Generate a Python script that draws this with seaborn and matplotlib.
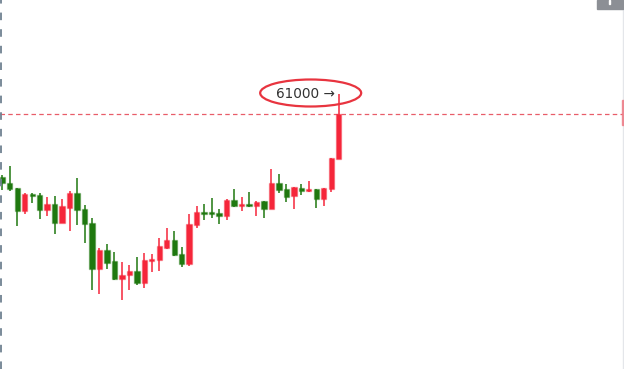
import numpy as np
import pandas as pd
import matplotlib
matplotlib.use("Agg")
import matplotlib.pyplot as plt
from matplotlib.patches import Ellipse, Rectangle
from matplotlib.transforms import IdentityTransform
import seaborn as sns

opens = [59340, 59230, 59130, 58660, 59010, 58980, 58690, 58800, 58430, 58730,
         59020, 58700, 58430, 57500, 57880, 57660, 57300, 57390, 57460, 57230,
         57670, 57680, 57930, 58080, 57800, 57600, 58380, 58650, 58650, 58630,
         58570, 58880, 58770, 58810, 58770, 58860, 58700, 59230, 59100, 58960,
         59130, 59060, 59110, 58910, 59100, 59710]
highs = [59380, 59570, 59130, 59030, 59030, 59030, 58940, 58960, 58910, 59060,
         59330, 58790, 58530, 57930, 58010, 57840, 57650, 57580, 57750, 57830,
         57810, 58130, 58320, 58260, 57940, 58600, 58760, 58810, 58920, 58710,
         58900, 59110, 58950, 59040, 58870, 58860, 59510, 59400, 59210, 59140,
         59210, 59270, 59110, 59130, 59730, 61000]
lows = [59080, 59070, 58370, 58600, 58830, 58510, 58560, 58210, 58430, 58260,
        58380, 58020, 57090, 57010, 57510, 57290, 56890, 57080, 57190, 57130,
        57450, 57460, 57910, 57760, 57550, 57560, 58330, 58480, 58530, 58400,
        58490, 58750, 58670, 58750, 58560, 58530, 58700, 59030, 58850, 58710,
        58980, 59050, 58730, 58760, 59050, 59710]
closes = [59220, 59100, 58660, 59010, 58970, 58690, 58810, 58430, 58760, 59030,
          58680, 58400, 57500, 57890, 57630, 57300, 57390, 57460, 57230, 57680,
          57710, 57960, 58080, 57790, 57610, 58400, 58650, 58610, 58610, 58570,
          58880, 58760, 58810, 58760, 58850, 58700, 59230, 59080, 58950, 59140,
          59060, 59100, 58910, 59130, 59730, 60610]
high_label = "61000 →"

df = pd.DataFrame({"open": opens, "high": highs, "low": lows, "close": closes})
df["idx"] = np.arange(len(df))
UP = "#f5263a"
DOWN = "#1f780f"
df["color"] = np.where(df["close"] >= df["open"], UP, DOWN)

sns.set_theme(style="white")
plt.rcParams["font.family"] = ["DejaVu Sans"]

fig = plt.figure(figsize=(6.24, 3.69), dpi=100)
ax = fig.add_axes([0, 0, 1, 1])
ax.set_xlim(-0.308, 83.17)
ax.set_ylim(55500, 62880)
ax.axis("off")

# wicks
ax.vlines(df["idx"], df["low"], df["high"], colors=df["color"], linewidth=1.1, zorder=2)
# bodies
bottoms = np.minimum(df["open"], df["close"])
heights = np.maximum(np.abs(df["close"] - df["open"]), 40)
ax.bar(df["idx"], heights, bottom=bottoms, width=0.72, color=df["color"],
       edgecolor=[matplotlib.colors.to_rgba(c, 0.35) for c in df["color"]],
       linewidth=1.0, zorder=3)

# current price dashed line
last_close = closes[-1]
ax.axhline(last_close, color="#e5404f", linewidth=0.9, dashes=(3.6, 2.6), alpha=0.85, zorder=1)

# left dashed border
ax.plot([0.0012, 0.0012], [0, 1], transform=ax.transAxes, color="#6f8191",
        linewidth=1.3, dashes=(4.2, 5.0), clip_on=False, zorder=4)

# right price-axis remnants
ax.plot([0.9985, 0.9985], [0, 1], transform=ax.transAxes, color="#e4e6ea", linewidth=1.0, zorder=1)
ax.add_patch(Rectangle((597 / 624, 1 - 8.5 / 369), 25.5 / 624, 8.5 / 369,
                       transform=ax.transAxes, color="#8c8f95", zorder=5, clip_on=False))
ax.add_patch(Rectangle((608.5 / 624, 1 - 4 / 369), 1.5 / 624, 4 / 369,
                       transform=ax.transAxes, color="white", zorder=6, clip_on=False))
ax.add_patch(Rectangle((621.5 / 624, 1 - 125 / 369), 2.5 / 624, 25 / 369,
                       transform=ax.transAxes, color="#ee7a85", alpha=0.8, zorder=5, clip_on=False))

# high annotation
imax = int(np.argmax(highs))
fig.canvas.draw()
px, py = ax.transData.transform((imax, highs[imax]))
ax.annotate(high_label, xy=(imax, highs[imax]), xytext=(-3.5, -0.5),
            textcoords="offset pixels", ha="right", va="center",
            fontsize=9.8, color="#333333", zorder=6)
ax.add_patch(Ellipse((px - 28, py + 1), 101, 27, transform=IdentityTransform(),
                     fill=False, edgecolor="#e8343f", linewidth=1.6, zorder=6))

fig.savefig("out.png", dpi=100)
